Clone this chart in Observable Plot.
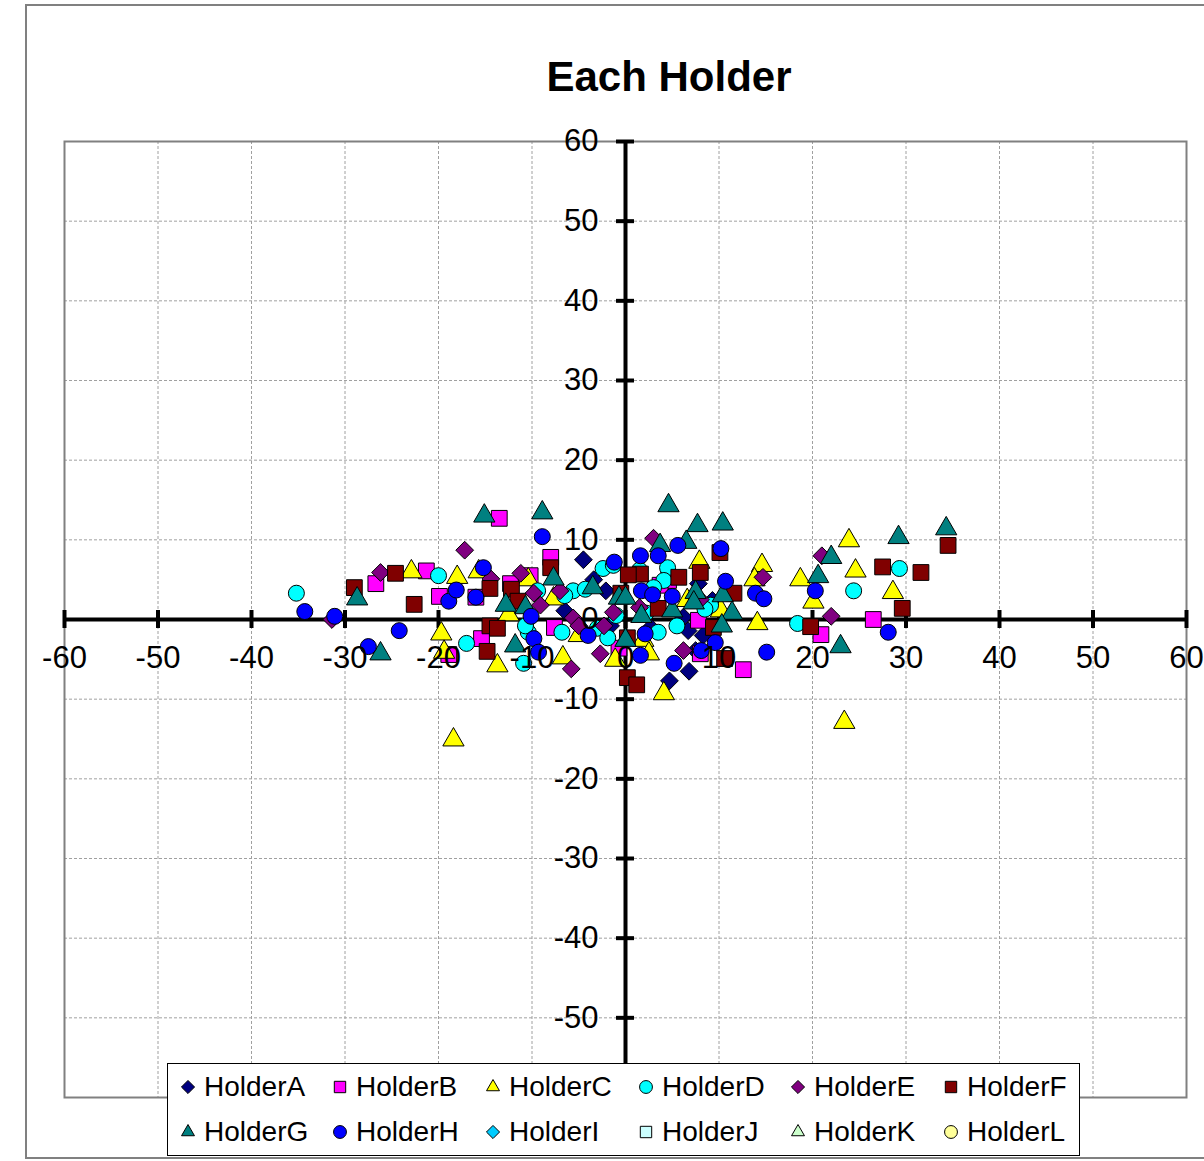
<!DOCTYPE html>
<html><head><meta charset="utf-8">
<script src="https://cdn.jsdelivr.net/npm/d3@7"></script>
<script src="https://cdn.jsdelivr.net/npm/@observablehq/plot@0.6"></script>
<style>
body{margin:0;background:#fff;font-family:"Liberation Sans",Arial,sans-serif;}
#wrap{position:relative;width:1204px;height:1161px;overflow:hidden;background:#fff;}
#outer{position:absolute;left:25px;top:4px;width:1200px;height:1155px;border:2px solid #808080;box-sizing:border-box;}
#chart{position:absolute;left:0;top:0;}
#title{position:absolute;left:469px;width:400px;top:56px;line-height:42px;font-size:42px;font-weight:bold;text-align:center;color:#000;}
#legend{position:absolute;left:167px;top:1063px;width:913px;height:93px;border:1px solid #000;background:#fff;box-sizing:border-box;}
.item{position:absolute;height:32px;width:136px;line-height:32px;font-size:28px;color:#000;white-space:nowrap;}
.item svg{position:absolute;top:8px;left:0;}
.item span{position:absolute;top:0;left:24px;}
</style>
</head><body>
<div id="wrap">
<div id="outer"></div>
<div id="chart"></div>
<div id="title">Each Holder</div>
<div id="legend"></div>
</div>
<script>
const seriesNames = ["HolderA","HolderB","HolderC","HolderD","HolderE","HolderF","HolderG","HolderH","HolderI","HolderJ","HolderK","HolderL"];
const seriesColors = ["#000080","#FF00FF","#FFFF00","#00FFFF","#800080","#800000","#008080","#0000FF","#00CCFF","#CCFFFF","#CCFFCC","#FFFF99"];
const seriesSymbols = ["diamond2","square","triangle","circle","diamond2","square","triangle","circle","diamond2","square","triangle","circle"];

const xTicks = [-60,-50,-40,-30,-20,-10,0,10,20,30,40,50,60];
const yTicks = [-60,-50,-40,-30,-20,-10,0,10,20,30,40,50,60];
const yTickLabels = [-50,-40,-30,-20,-10,0,10,20,30,40,50,60]; // -60 lies under the legend

const holderA = [[-4.5,7.5],[-3.4,5.0],[-2.1,3.6],[-6.5,1.1],[4.7,-7.7],[6.8,-6.5],[6.7,-1.4],[8.3,-2.0],[6.2,0.3],[7.8,4.5],[7.5,-3.9],[-1.6,-0.8],[2.7,-1.0],[9.3,2.4]];
const holderB = [[-13.5,12.7],[-26.7,4.5],[-21.3,6.1],[-19.9,2.9],[-18.9,-4.4],[-15.4,-2.4],[-8.0,7.8],[-7.6,-1.0],[-12.3,4.5],[-16.0,2.8],[4.6,4.9],[7.8,-0.1],[12.6,-6.3],[20.9,-1.9],[26.5,0.0],[8.0,-4.3],[3.7,4.3],[-0.7,-3.6],[-10.2,5.5]];
const holderC = [[-18.4,-15.1],[23.4,-12.9],[23.9,9.9],[24.6,6.1],[28.6,3.4],[18.7,5.0],[20.1,2.2],[14.1,-0.5],[14.6,6.8],[13.8,5.0],[4.1,-9.3],[-13.7,-5.8],[-19.7,-1.8],[-19.4,-4.1],[-22.9,6.0],[-18.0,5.3],[-6.7,-4.8],[-10.4,5.0],[-7.7,2.6],[-1.1,-5.1],[1.9,-2.6],[7.9,7.2],[10.2,1.1],[-15.7,6.0],[-12.5,0.6],[-5.0,-2.0],[2.5,-4.3],[6.6,2.4]];
const holderD = [[-35.2,3.3],[-20.0,5.5],[-17.0,-3.0],[-10.9,-5.5],[-10.4,-1.6],[-10.7,-0.8],[-6.8,-1.6],[-5.6,3.6],[-4.3,3.8],[-3.0,-1.1],[-1.9,-2.3],[-2.4,6.4],[-1.3,6.8],[3.5,-1.6],[4.5,6.5],[4.1,4.9],[9.1,1.8],[8.5,1.3],[18.4,-0.5],[24.4,3.6],[29.3,6.4],[-9.4,3.6],[-6.5,3.0],[1.5,6.2],[5.5,-0.8],[3.0,4.0],[-1.0,0.5],[2.2,0.8]];
const holderE = [[-31.4,0.0],[-26.2,5.9],[-17.2,8.7],[-14.4,5.1],[-11.2,5.8],[-9.8,3.3],[-9.1,1.8],[-5.6,0.2],[-5.0,-0.8],[-2.3,-0.8],[-1.3,0.9],[-5.8,-6.2],[-2.7,-4.3],[3.0,10.2],[6.2,-3.9],[14.7,5.3],[21.0,8.0],[22.0,0.4],[-7.0,3.6],[1.5,1.5],[8.0,2.5]];
const holderF = [[-29.0,4.0],[-24.6,5.8],[-22.6,1.9],[-14.8,-4.0],[-14.5,-0.8],[-13.7,-1.1],[-14.5,3.9],[-12.2,3.8],[-11.5,2.3],[-8.0,6.5],[0.2,-2.3],[0.2,-7.3],[1.2,-8.2],[1.6,5.7],[0.3,5.6],[-0.5,3.3],[5.7,5.3],[3.5,1.4],[8.0,5.9],[10.1,8.4],[10.6,-4.9],[11.6,3.3],[9.4,-1.0],[19.8,-0.9],[27.5,6.6],[29.6,1.4],[31.6,5.9],[34.5,9.3]];
const holderG = [[-15.1,13.0],[-8.9,13.4],[-28.7,2.6],[-26.2,-4.3],[-11.8,-3.3],[-12.8,1.8],[-10.7,1.5],[-7.7,5.1],[-3.5,4.0],[-0.7,2.7],[0.0,2.7],[1.7,0.4],[0.0,-2.6],[4.6,14.3],[7.7,11.8],[10.4,12.0],[6.5,9.7],[3.7,9.3],[7.5,3.4],[7.3,2.1],[10.4,3.0],[11.4,0.8],[10.3,-0.8],[20.6,5.4],[22.0,7.8],[23.0,-3.4],[29.2,10.3],[34.3,11.4],[5.0,1.1]];
const holderH = [[-34.3,1.0],[-31.1,0.4],[-27.5,-3.4],[-24.2,-1.4],[-18.9,2.3],[-18.1,3.7],[-16.0,2.8],[-15.2,6.5],[-8.9,10.4],[-10.1,0.4],[-9.8,-2.4],[-9.3,-4.1],[-4.0,-2.0],[-1.2,7.2],[1.6,-4.5],[2.1,-1.8],[1.6,8.0],[3.5,8.0],[5.6,9.3],[5.0,2.9],[1.7,3.6],[2.9,3.1],[5.2,-5.5],[8.1,-3.9],[10.2,8.9],[10.7,4.8],[9.6,-2.9],[13.9,3.3],[14.8,2.6],[15.1,-4.1],[20.3,3.6],[28.1,-1.6]];
const holderI = [];
const holderJ = [];
const holderK = [];
const holderL = [];

const seriesData = [holderA,holderB,holderC,holderD,holderE,holderF,holderG,holderH,holderI,holderJ,holderK,holderL];
const seriesR = {circle: 8, square: 8.9, triangle: 7.9, diamond2: 8.0};

const TICK_X = 1.13; // half tick length in y units (x axis ticks)
const TICK_Y = 0.96; // half tick length in x units (y axis ticks)

const dotMarks = seriesData.map((pts, i) => Plot.dot(pts, {
  x: d => d[0], y: d => d[1],
  symbol: seriesSymbols[i], r: seriesR[seriesSymbols[i]],
  fill: seriesColors[i], stroke: "#000", strokeWidth: 1, fillOpacity: 1
}));

const chart = Plot.plot({
  width: 1204, height: 1161,
  marginLeft: 64, marginRight: 18, marginTop: 141, marginBottom: 64,
  x: {domain: [-60, 60], axis: null},
  y: {domain: [-60, 60], axis: null},
  style: {background: "transparent", fontFamily: "'Liberation Sans', Arial, sans-serif", overflow: "visible"},
  marks: [
    Plot.ruleX(xTicks, {x: d => d, stroke: "#a0a0a0", strokeWidth: 1, strokeDasharray: "3,2"}),
    Plot.ruleY(yTicks, {y: d => d, stroke: "#a0a0a0", strokeWidth: 1, strokeDasharray: "3,2"}),
    Plot.frame({stroke: "#808080", strokeWidth: 2}),
    Plot.ruleY([0], {stroke: "#000", strokeWidth: 4}),
    Plot.ruleX([0], {stroke: "#000", strokeWidth: 4}),
    Plot.ruleX(xTicks, {x: d => d, y1: -TICK_X, y2: TICK_X, stroke: "#000", strokeWidth: 4}),
    Plot.ruleY(yTicks, {y: d => d, x1: -TICK_Y, x2: TICK_Y, stroke: "#000", strokeWidth: 4}),
    ...dotMarks,
    Plot.text(xTicks, {x: d => d, y: 0, text: d => String(d), dy: 39, fontSize: 31, fill: "#000", textAnchor: "middle"}),
    Plot.text(yTickLabels, {x: 0, y: d => d, text: d => String(d), dx: -27, fontSize: 31, fill: "#000", textAnchor: "end"})
  ]
});
document.getElementById("chart").appendChild(chart);

// Legend
const legend = document.getElementById("legend");
const colMarker = [20, 172, 325, 478, 630, 783];
const rowCenter = [24, 69];
const legendSize = {circle: 130, square: 130, triangle: 120, diamond2: 110};
const symbolFns = {diamond2: d3.symbolDiamond2, square: d3.symbolSquare, triangle: d3.symbolTriangle2, circle: d3.symbolCircle};
seriesNames.forEach((name, i) => {
  const row = Math.floor(i / 6), col = i % 6;
  const item = document.createElement("div");
  item.className = "item";
  item.style.left = (colMarker[col] - 8) + "px";
  item.style.top = (rowCenter[row] - 16 - 1) + "px";
  const svg = d3.create("svg").attr("width", 16).attr("height", 16);
  svg.append("path")
    .attr("transform", "translate(8,8)")
    .attr("d", d3.symbol(symbolFns[seriesSymbols[i]], legendSize[seriesSymbols[i]])())
    .attr("fill", seriesColors[i]).attr("stroke", "#000").attr("stroke-width", 1);
  item.appendChild(svg.node());
  const span = document.createElement("span");
  span.textContent = name;
  item.appendChild(span);
  legend.appendChild(item);
});
</script>
</body></html>
